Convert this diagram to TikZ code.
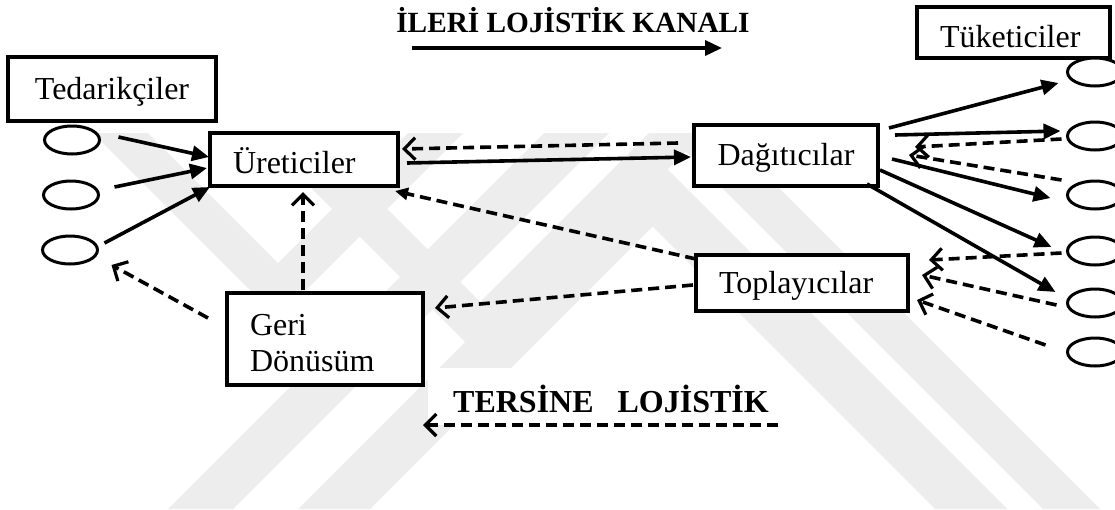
\documentclass[tikz,border=0pt]{standalone}
\usepackage{fontspec}
\setmainfont{Liberation Serif}
\usetikzlibrary{arrows.meta,shapes.geometric}
\begin{document}
\begin{tikzpicture}[x=1pt,y=-1pt,
  box/.style={draw, fill=white, line width=4pt, rectangle, inner sep=0pt,
              font=\fontsize{32}{36}\selectfont},
  oneline/.style={text height=26pt, text depth=6pt},
  oval/.style={draw, fill=white, line width=3pt, ellipse, minimum width=55pt,
               minimum height=28pt, inner sep=0pt},
  fwd/.style={line width=3.6pt, -{Triangle[length=17pt,width=15pt]}},
  back/.style={line width=3.6pt, dash pattern=on 11pt off 6pt,
               -{Straight Barb[length=11pt,width=22pt,line width=3.2pt]}},
  backfill/.style={line width=3.6pt, dash pattern=on 11pt off 6pt,
                   -{Triangle[length=13pt,width=12pt]}},
  heading/.style={font=\bfseries\fontsize{29.3}{34}\selectfont, inner sep=0pt},
  emblem/.style={fill=black!7}
]
\clip (0,0) rectangle (1115,509);
\fill[white] (0,0) rectangle (1115,509);

% faint background emblem made of diagonal bands
\fill[emblem] (93,133) -- (148,133) -- (278,263) -- (408,133) -- (463,133) -- (278,318) -- cycle;
\fill[emblem] (256,133) -- (311,133) -- (480,302) -- (649,133) -- (704,133) -- (480,357) -- cycle;
\fill[emblem] (298,509) -- (370,509) -- (652.5,226.5) -- (935,509) -- (1007,509) -- (652.5,154.5) -- cycle;
\fill[emblem] (168,509) -- (233,509) -- (609,133) -- (544,133) -- cycle;
\fill[emblem] (1043,509) -- (1100,509) -- (724,133) -- (667,133) -- cycle;

% channel boxes
\node[box, oneline, minimum width=208pt, minimum height=64pt] (ted) at (112,89) {Tedarik\c{c}iler};
\node[box, minimum width=188pt, minimum height=53pt, text width=142pt, align=left,
      text height=30pt, text depth=3pt] (ure) at (304,159.5) {Üreticiler};
\node[box, minimum width=184pt, minimum height=61pt, text height=27pt, text depth=8pt] (dag) at (786,155.5) {Dağıtıcılar};
\node[box, oneline, minimum width=212pt, minimum height=56pt, text width=166pt, align=left] (top) at (802,283) {Toplayıcılar};
\node[box, minimum width=196pt, minimum height=92pt, text width=150pt, align=left,
      text height=28pt, text depth=36pt] (geri) at (325,339) {Geri\\Dönüsüm};
\node[box, minimum width=193pt, minimum height=51pt, text width=147pt, align=left,
      text height=30pt, text depth=1pt] (tuk) at (1013.5,32.5) {Tüketiciler};

% suppliers and consumers
\node[oval] (L1) at (72,140) {};
\node[oval] (L2) at (71,195) {};
\node[oval] (L3) at (70,250) {};
\node[oval] (R1) at (1095,72) {};
\node[oval] (R2) at (1095,136) {};
\node[oval] (R3) at (1095,195) {};
\node[oval] (R4) at (1095,251) {};
\node[oval] (R5) at (1095,303) {};
\node[oval] (R6) at (1095,352) {};

% headings
\node[heading, anchor=base] (ileri) at (573,32) {İLERİ LOJİSTİK KANALI};
\coordinate (fa1) at (412,48);
\coordinate (fa2) at (722,48);
\draw[fwd] (fa1) -- (fa2);

\node[fill=white, minimum width=364pt, minimum height=57pt] (tersbg) at (610,396.5) {};
\node[heading, font=\bfseries\fontsize{32}{36}\selectfont, anchor=base] (ters) at (611,412) {TERSİNE\ \ \ LOJİSTİK};
\coordinate (ra1) at (778,425);
\coordinate (ra2) at (423,425);
\draw[back] (ra1) -- (ra2);

% forward flow
\draw[fwd] ([xshift=17.5pt,yshift=3pt]L1.east) -- ([xshift=1pt,yshift=2.5pt]ure.west);
\draw[fwd] ([xshift=14.5pt,yshift=8pt]L2.east) -- ([xshift=-1pt,yshift=-8.5pt]ure.west);
\draw[fwd] ([xshift=5.5pt,yshift=7pt]L3.east) -- ([xshift=2pt,yshift=1pt]ure.south west);
\draw[fwd] ([xshift=7pt,yshift=-3.5pt]ure.east) -- ([xshift=-1pt,yshift=-1.5pt]dag.west);
\draw[fwd] ([xshift=9pt,yshift=-5pt]dag.north east) -- ([xshift=-7.5pt,yshift=-11pt]R1.west);
\draw[fwd] ([xshift=15pt,yshift=-12pt]dag.north east) -- ([xshift=-5.5pt,yshift=5pt]R2.west);
\draw[fwd] ([xshift=12pt,yshift=-3.5pt]dag.east) -- ([xshift=-15.5pt,yshift=-3pt]R3.west);
\draw[fwd] ([yshift=-14.5pt]dag.east) -- ([xshift=-14.5pt,yshift=4pt]R4.west);
\draw[fwd] ([xshift=-13pt,yshift=4pt]dag.south east) -- ([xshift=-10.5pt,yshift=11pt]R5.west);

% reverse flow
\draw[back] ([xshift=-14pt,yshift=12.5pt]dag.west) -- ([xshift=2pt,yshift=10.5pt]ure.east);
\draw[backfill] ([xshift=2pt,yshift=-6pt]top.north west) -- ([xshift=-5pt,yshift=-3pt]ure.south east);
\draw[back] ([xshift=-1pt,yshift=-2pt]top.west) -- ([xshift=10pt,yshift=-17pt]geri.north east);
\draw[back] ([xshift=-22pt,yshift=1pt]geri.north) -- ([xshift=-1pt,yshift=-4pt]ure.south);
\draw[back] ([xshift=-17pt,yshift=21pt]geri.west) -- ([xshift=12.5pt,yshift=-15pt]L3.east);
\draw[back] ([xshift=-4.5pt,yshift=-3pt]R2.west) -- ([xshift=35pt,yshift=8.5pt]dag.east);
\draw[back] ([xshift=-4.5pt,yshift=15pt]R3.west) -- ([xshift=29pt,yshift=0.5pt]dag.east);
\draw[back] ([xshift=-4.5pt,yshift=-2pt]R4.west) -- ([xshift=19pt,yshift=23pt]top.east);
\draw[back] ([xshift=-9.5pt,yshift=-2pt]R5.west) -- ([xshift=12pt,yshift=8pt]top.east);
\draw[back] ([xshift=-20.5pt,yshift=7pt]R6.west) -- ([xshift=7pt,yshift=-17pt]top.east);
\end{tikzpicture}
\end{document}
